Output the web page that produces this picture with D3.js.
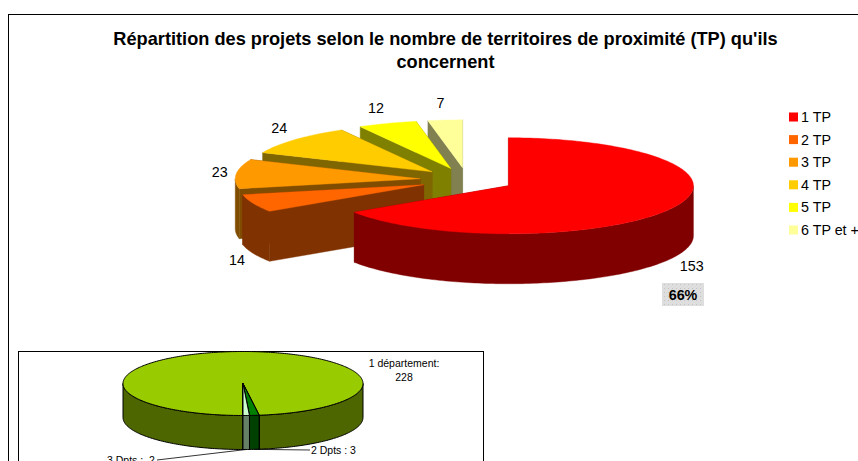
<!DOCTYPE html>
<html>
<head>
<meta charset="utf-8">
<script src="https://cdn.jsdelivr.net/npm/d3@7"></script>
<style>
  html, body { margin: 0; padding: 0; background: #fff; overflow: hidden; }
  svg { display: block; }
  text { font-family: "Liberation Sans", Arial, sans-serif; fill: #000; white-space: pre; }
</style>
</head>
<body>
<svg id="chart" width="858" height="461"></svg>
<script>
// donnees du graphique principal
const tpLabels = ["1 TP", "2 TP", "3 TP", "4 TP", "5 TP", "6 TP et +"];
const tpValues = [153, 14, 23, 24, 12, 7];
const tpColors = ["#FF0000", "#FF6600", "#FF9900", "#FFCC00", "#FFFF00", "#FFFF99"];
const tpSides = ["#800000", "#803300", "#804D00", "#806600", "#808000", "#808050"];

// donnees du petit graphique
const dptLabels = ["1 département:", "2 Dpts : 3", "3 Dpts :  2"];
const dptValues = [228, 3, 2];
const dptColors = ["#99CC00", "#008000", "#CCFFCC"];
const dptSides = ["#4D6600", "#004000", "#668066"];

const titleLines = [
  "Répartition des projets selon le nombre de territoires de proximité (TP) qu'ils",
  "concernent"
];

const svg = d3.select("#chart");
const line = d3.line();

// point du camembert projete (angle 0 = midi, sens horaire)
function project(p, angle, r) {
  return [p.cx + Math.sin(angle) * p.rx * r, p.cy - Math.cos(angle) * p.ry * r];
}

function arcPoints(p, a0, a1) {
  const n = Math.max(2, Math.ceil((a1 - a0) / 0.02));
  return d3.range(n + 1).map(i => project(p, a0 + (a1 - a0) * i / n, 1));
}

function down(pt, depth) {
  return [pt[0], pt[1] + depth];
}

// dessine une part en 3D : faces coupees, bord courbe puis dessus
function drawSlice(g, d, base, top, side, stroke) {
  const mid = (d.startAngle + d.endAngle) / 2;
  const p = {
    cx: base.cx + Math.sin(mid) * (base.explode || 0),
    cy: base.cy - Math.cos(mid) * (base.explode || 0) * base.ry / base.rx,
    rx: base.rx,
    ry: base.ry
  };
  const apex = [p.cx, p.cy];

  [d.startAngle, d.endAngle].forEach(a => {
    const e = project(p, a, 1);
    g.append("path")
      .attr("d", line([apex, e, down(e, base.depth), down(apex, base.depth)]) + "Z")
      .attr("fill", side)
      .attr("stroke", stroke || side)
      .attr("stroke-width", stroke ? 1 : 0.4);
  });

  // seule la partie avant du bord courbe est visible
  for (const k of [0, 2]) {
    const a0 = Math.max(d.startAngle, Math.PI / 2 + k * Math.PI);
    const a1 = Math.min(d.endAngle, 3 * Math.PI / 2 + k * Math.PI);
    if (a1 > a0) {
      const pts = arcPoints(p, a0, a1);
      const bottom = pts.map(q => down(q, base.depth)).reverse();
      g.append("path")
        .attr("d", line(pts.concat(bottom)) + "Z")
        .attr("fill", side)
        .attr("stroke", stroke || side)
        .attr("stroke-width", stroke ? 1 : 0.4);
    }
  }

  g.append("path")
    .attr("d", line([apex].concat(arcPoints(p, d.startAngle, d.endAngle))) + "Z")
    .attr("fill", top)
    .attr("stroke", stroke || top)
    .attr("stroke-width", stroke ? 1 : 0.4);

  return p;
}

// cadre exterieur, ouvert a droite et en bas comme sur l'image
svg.append("rect")
  .attr("x", 8.5).attr("y", 14.5)
  .attr("width", 900).attr("height", 500)
  .attr("fill", "#fff").attr("stroke", "#000");

// titre
svg.append("g").selectAll("text")
  .data(titleLines)
  .join("text")
  .attr("x", 445.5)
  .attr("y", (d, i) => 45 + i * 23)
  .attr("text-anchor", "middle")
  .attr("font-size", "18.2px")
  .attr("font-weight", "bold")
  .text(d => d);

// camembert principal
const mainPie = { cx: 467, cy: 180, rx: 185, ry: 48, depth: 50, explode: 47 };
const pie = d3.pie().sort(null).value(d => d);
const mainArcs = pie(tpValues);

const mainG = svg.append("g");
const centers = {};
mainArcs.slice().reverse().forEach(d => {
  centers[d.index] = drawSlice(mainG, d, mainPie, tpColors[d.index], tpSides[d.index]);
});

// etiquettes de valeurs
const labelNudge = [4, 1, 2, -2, -5, -3];
svg.append("g").selectAll("text")
  .data(mainArcs)
  .join("text")
  .attr("x", d => {
    const mid = (d.startAngle + d.endAngle) / 2;
    return centers[d.index].cx + Math.sin(mid) * mainPie.rx * 1.1 + labelNudge[d.index];
  })
  .attr("y", d => {
    const mid = (d.startAngle + d.endAngle) / 2;
    const front = Math.cos(mid) < -0.2 ? mainPie.depth : 0;
    return centers[d.index].cy - Math.cos(mid) * mainPie.ry * 1.35 + front + 5;
  })
  .attr("text-anchor", "middle")
  .attr("font-size", "14.3px")
  .text(d => d.value);

// pourcentage sur fond grise
const defs = svg.append("defs");
const dots = defs.append("pattern")
  .attr("id", "dots").attr("width", 4).attr("height", 4)
  .attr("patternUnits", "userSpaceOnUse");
dots.append("rect").attr("width", 4).attr("height", 4).attr("fill", "#dedede");
dots.append("rect").attr("width", 1).attr("height", 1).attr("fill", "#c4c4c4");

svg.append("rect")
  .attr("x", 662).attr("y", 283)
  .attr("width", 42).attr("height", 23)
  .attr("fill", "url(#dots)");
svg.append("text")
  .attr("x", 683).attr("y", 299.5)
  .attr("text-anchor", "middle")
  .attr("font-size", "14.3px")
  .attr("font-weight", "bold")
  .text(d3.format(".0%")(tpValues[0] / d3.sum(tpValues)));

// legende
const legendY = d3.scalePoint().domain(tpLabels).range([117, 230]);
const legend = svg.append("g").selectAll("g")
  .data(tpLabels)
  .join("g")
  .attr("transform", d => `translate(789,${legendY(d)})`);
legend.append("rect")
  .attr("x", 0).attr("y", -4.5)
  .attr("width", 9).attr("height", 9)
  .attr("fill", (d, i) => tpColors[i]);
legend.append("text")
  .attr("x", 12).attr("y", 5)
  .attr("font-size", "14.3px")
  .text(d => d);

// petit graphique en bas
svg.append("rect")
  .attr("x", 18.5).attr("y", 351.5)
  .attr("width", 465).attr("height", 130)
  .attr("fill", "#fff").attr("stroke", "#000");

const dptPie = { cx: 243, cy: 383.5, rx: 120, ry: 32, depth: 34 };
const dptArcs = d3.pie().sort(null).value(d => d)
  .startAngle(Math.PI).endAngle(3 * Math.PI)(dptValues);

const dptG = svg.append("g");
dptArcs.forEach(d => {
  drawSlice(dptG, d, dptPie, dptColors[d.index], dptSides[d.index], "#000");
});

// traits de rappel
const leaderEnds = [null, [310, 450], [157, 460]];
const leaders = svg.append("g");
dptArcs.slice(1).forEach(d => {
  const mid = (d.startAngle + d.endAngle) / 2;
  const from = down(project(dptPie, mid, 1), dptPie.depth);
  leaders.append("path")
    .attr("d", line([from, leaderEnds[d.index]]))
    .attr("fill", "none")
    .attr("stroke", "#000")
    .attr("stroke-width", 0.8);
});

svg.append("text")
  .attr("x", 404).attr("y", 367)
  .attr("text-anchor", "middle").attr("font-size", "10.5px")
  .text(dptLabels[0]);
svg.append("text")
  .attr("x", 404).attr("y", 381)
  .attr("text-anchor", "middle").attr("font-size", "10.5px")
  .text(dptValues[0]);
svg.append("text")
  .attr("x", 311).attr("y", 454)
  .attr("font-size", "10.5px")
  .text(dptLabels[1]);
svg.append("text")
  .attr("x", 107).attr("y", 464)
  .attr("font-size", "10.5px")
  .text(dptLabels[2]);
</script>
</body>
</html>
